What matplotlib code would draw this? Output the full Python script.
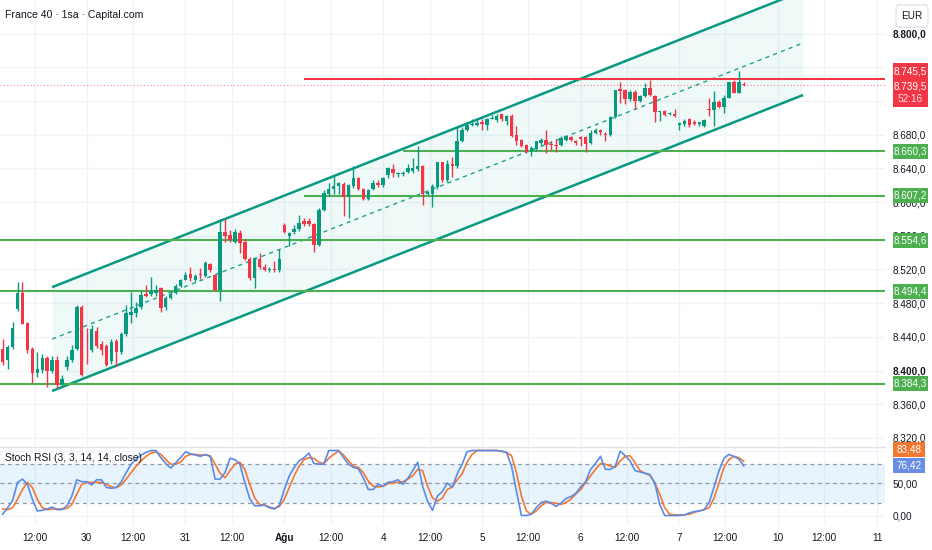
import matplotlib
matplotlib.use('Agg')
import matplotlib.pyplot as plt
import numpy as np
from matplotlib.patches import Rectangle, FancyBboxPatch
from matplotlib.transforms import IdentityTransform

plt.rcParams['font.family'] = ['Liberation Sans', 'DejaVu Sans']

# ---------------- data ----------------
opens = [8426, 8412, 8428, 8473, 8492, 8456, 8426, 8397, 8401, 8415,
         8399, 8413, 8383, 8404, 8412, 8426, 8475, 8425, 8424, 8447,
         8432, 8429, 8411, 8435, 8422, 8443, 8466, 8468, 8475, 8491,
         8491, 8492, 8498, 8475, 8486, 8492, 8500, 8508, 8515, 8507,
         8515, 8512, 8526, 8513, 8496, 8565, 8561, 8553, 8563, 8553,
         8533, 8510, 8533, 8523, 8519, 8521, 8519, 8573, 8560, 8564,
         8568, 8578, 8578, 8574, 8549, 8591, 8610, 8615, 8619, 8621,
         8606, 8619, 8628, 8616, 8604, 8616, 8623, 8620, 8632, 8639,
         8633, 8633, 8636, 8637, 8639, 8643, 8610, 8610, 8618, 8647,
         8626, 8645, 8643, 8672, 8685, 8691, 8692, 8695, 8691, 8699,
         8697, 8704, 8696, 8702, 8680, 8674, 8668, 8659, 8663, 8670,
         8674, 8669, 8668, 8668, 8674, 8677, 8673, 8677, 8677, 8670,
         8682, 8686, 8681, 8680, 8701, 8734, 8733, 8722, 8731, 8720,
         8726, 8735, 8726, 8707, 8708, 8704, 8705, 8691, 8693, 8698,
         8695, 8693, 8690, 8710, 8709, 8719, 8713, 8724, 8742, 8730,
         8740]
highs = [8437, 8430, 8458, 8505, 8505, 8458, 8428, 8422, 8420, 8417,
         8417, 8417, 8395, 8417, 8430, 8478, 8478, 8451, 8454, 8452,
         8435, 8431, 8437, 8438, 8446, 8478, 8493, 8481, 8494, 8501,
         8511, 8501, 8499, 8488, 8494, 8503, 8509, 8517, 8523, 8515,
         8522, 8530, 8528, 8514, 8580, 8580, 8567, 8568, 8567, 8556,
         8535, 8535, 8539, 8526, 8523, 8530, 8544, 8575, 8565, 8573,
         8585, 8581, 8581, 8575, 8593, 8614, 8623, 8632, 8624, 8624,
         8622, 8643, 8630, 8617, 8616, 8626, 8626, 8630, 8642, 8645,
         8636, 8637, 8645, 8652, 8667, 8644, 8613, 8621, 8648, 8648,
         8650, 8653, 8690, 8689, 8695, 8698, 8697, 8698, 8700, 8703,
         8704, 8705, 8703, 8704, 8690, 8675, 8669, 8666, 8673, 8676,
         8685, 8673, 8675, 8678, 8680, 8678, 8674, 8678, 8678, 8686,
         8688, 8687, 8683, 8702, 8733, 8743, 8734, 8733, 8733, 8727,
         8741, 8745, 8727, 8708, 8709, 8707, 8710, 8695, 8699, 8700,
         8697, 8695, 8698, 8723, 8732, 8721, 8727, 8743, 8745, 8756,
         8742]
lows = [8407, 8402, 8426, 8471, 8455, 8421, 8385, 8392, 8397, 8381,
        8397, 8379, 8381, 8401, 8410, 8424, 8394, 8408, 8422, 8427,
        8418, 8405, 8408, 8405, 8420, 8441, 8457, 8464, 8473, 8487,
        8489, 8488, 8470, 8472, 8485, 8491, 8499, 8507, 8506, 8505,
        8509, 8511, 8517, 8495, 8482, 8553, 8553, 8551, 8540, 8531,
        8508, 8498, 8521, 8518, 8517, 8517, 8517, 8563, 8548, 8562,
        8566, 8571, 8572, 8541, 8548, 8589, 8607, 8610, 8610, 8583,
        8581, 8617, 8614, 8602, 8602, 8614, 8618, 8618, 8629, 8630,
        8630, 8631, 8634, 8635, 8637, 8597, 8608, 8594, 8616, 8624,
        8624, 8630, 8641, 8671, 8684, 8690, 8690, 8686, 8685, 8698,
        8695, 8696, 8692, 8677, 8668, 8665, 8658, 8655, 8661, 8668,
        8658, 8662, 8660, 8666, 8673, 8673, 8668, 8667, 8660, 8669,
        8681, 8680, 8672, 8678, 8700, 8718, 8716, 8720, 8711, 8719,
        8725, 8726, 8695, 8696, 8702, 8703, 8701, 8685, 8690, 8689,
        8692, 8690, 8689, 8702, 8690, 8712, 8706, 8723, 8729, 8729,
        8738]
closes = [8410, 8428, 8450, 8492, 8455, 8425, 8397, 8402, 8415, 8399,
          8412, 8383, 8390, 8412, 8425, 8475, 8395, 8424, 8449, 8429,
          8425, 8407, 8434, 8422, 8443, 8468, 8470, 8474, 8490, 8489,
          8495, 8496, 8474, 8486, 8491, 8500, 8507, 8514, 8510, 8512,
          8513, 8528, 8519, 8496, 8565, 8560, 8555, 8564, 8552, 8533,
          8510, 8534, 8523, 8519, 8521, 8519, 8533, 8565, 8563, 8568,
          8575, 8574, 8574, 8549, 8591, 8611, 8616, 8619, 8623, 8606,
          8620, 8628, 8616, 8604, 8614, 8623, 8620, 8628, 8640, 8634,
          8634, 8635, 8640, 8641, 8643, 8610, 8612, 8619, 8647, 8626,
          8645, 8643, 8673, 8685, 8691, 8693, 8694, 8693, 8699, 8700,
          8702, 8698, 8702, 8678, 8672, 8667, 8659, 8664, 8672, 8674,
          8668, 8668, 8667, 8676, 8678, 8674, 8670, 8675, 8669, 8682,
          8686, 8683, 8679, 8701, 8733, 8732, 8722, 8731, 8720, 8726,
          8735, 8727, 8707, 8708, 8703, 8706, 8702, 8694, 8696, 8691,
          8693, 8695, 8697, 8709, 8719, 8713, 8724, 8742, 8730, 8742,
          8739.5]

stoch_k = [2, 12, 23, 51, 56, 48, 25, 7, 8, 10,
           13, 9, 9, 15, 30, 55, 52, 52, 47, 55,
           55, 43, 42, 43, 52, 66, 79, 86, 93, 97,
           100, 100, 89, 80, 73, 81, 89, 98, 95, 93,
           91, 94, 91, 56, 56, 66, 88, 86, 79, 51,
           26, 15, 15, 16, 12, 10, 16, 40, 61, 74,
           84, 89, 96, 80, 79, 79, 100, 100, 100, 89,
           79, 74, 72, 58, 40, 40, 48, 45, 51, 52,
           55, 48, 57, 69, 82, 45, 22, 8, 30, 37,
           50, 43, 64, 79, 98, 100, 100, 100, 100, 100,
           100, 99, 97, 76, 37, 0, 0, 2, 12, 20,
           22, 19, 14, 19, 26, 29, 34, 44, 52, 71,
           80, 91, 71, 71, 76, 99, 92, 84, 69, 67,
           65, 63, 50, 17, 0, 0, 0, 0, 1, 4,
           6, 7, 9, 20, 44, 69, 88, 94, 91, 87,
           76.42]
stoch_d = [10, 9, 12, 25, 40, 51, 43, 25, 12, 9,
           10, 10, 10, 11, 17, 33, 48, 51, 51, 51,
           51, 48, 44, 43, 47, 56, 66, 76, 84, 91,
           96, 98, 94, 86, 79, 79, 82, 91, 94, 94,
           93, 93, 92, 79, 65, 58, 69, 79, 82, 71,
           48, 27, 17, 16, 13, 11, 14, 25, 43, 61,
           76, 86, 89, 88, 82, 80, 88, 94, 99, 93,
           84, 76, 74, 66, 53, 45, 44, 45, 49, 50,
           51, 52, 56, 61, 71, 69, 45, 27, 22, 27,
           40, 44, 55, 64, 82, 94, 100, 100, 100, 100,
           100, 99, 97, 92, 66, 30, 7, 2, 7, 15,
           20, 20, 19, 17, 20, 25, 33, 40, 51, 61,
           71, 80, 79, 76, 74, 84, 91, 92, 81, 69,
           65, 62, 50, 33, 12, 2, 1, 1, 1, 2,
           5, 7, 9, 12, 27, 50, 74, 86, 91, 89,
           83.48]

# x-axis ticks (bar positions) and labels
tick_pos = [6.5, 17, 26.3, 37, 46.4, 57, 66.5, 77, 86.4, 97, 106.3, 117,
            126.3, 137, 146.2, 157, 166.3, 177]
tick_lbl = ['12:00', '30', '12:00', '31', '12:00', 'Ağu', '12:00', '4', '12:00',
            '5', '12:00', '6', '12:00', '7', '12:00', '10', '12:00', '11']

# horizontal levels: price, first bar
level_prices = [8660.3, 8607.2, 8554.6, 8494.4, 8384.3]
level_start = [81, 61, -1, -1, -1]
resist_price = 8745.5
resist_start = 61
last_price = 8739.5
countdown = '52:16'

# regression channel anchors (bar, price)
ch_bars = [10, 162]
ch_upper = [8499.0, 8850.4]
ch_mid = [8437.4, 8788.7]
ch_lower = [8375.8, 8727.0]

price_ticks = list(range(8320, 8801, 40))
hidden_price_ticks = [8720, 8760]      # covered by the price label in the reference
rsi_ticks = [0, 50]

# ---------------- style ----------------
GREEN = '#089981'
RED = '#f23645'
LVL = '#4caf50'
TEAL = '#089981'
BLUE = '#5b8be6'
ORANGE = '#f7762f'
GRID = '#f0f3fa'
TXT = '#131722'
FS = 7.2

W, H = 932, 550
fig = plt.figure(figsize=(W / 100, H / 100), dpi=100)
fig.patch.set_facecolor('white')


def fy(py):
    return 1 - py / H


ax = fig.add_axes([0, fy(446), 885 / W, 446 / H])
rx = fig.add_axes([0, fy(525), 885 / W, (525 - 447) / H])
XL = (-0.55, 178.6)
for a in (ax, rx):
    a.set_xlim(*XL)
    for s in a.spines.values():
        s.set_visible(False)
    a.set_facecolor('none')
    for t in tick_pos:
        a.axvline(t, color=GRID, lw=1, zorder=0)

ax.set_ylim(8310.5, 8839.8)
rx.set_ylim(-14.6, 105.4)

# horizontal grid
for p in price_ticks:
    ax.axhline(p, color=GRID, lw=1, zorder=0)
for v in (0, 50, 100):
    rx.axhline(v, color=GRID, lw=1, zorder=0)

# channel
ax.fill_between(ch_bars, ch_lower, ch_upper, color='#22ab94', alpha=0.07, lw=0, zorder=1)
ax.plot(ch_bars, ch_upper, color=TEAL, lw=1.8, zorder=2, solid_capstyle='butt')
ax.plot(ch_bars, ch_lower, color=TEAL, lw=1.8, zorder=2, solid_capstyle='butt')
ax.plot(ch_bars, ch_mid, color=TEAL, lw=1, ls=(0, (3, 3)), zorder=2, alpha=0.9)

# levels
for p, s in zip(level_prices, level_start):
    ax.hlines(p, s, XL[1], color=LVL, lw=1.5, zorder=2)
ax.hlines(resist_price, resist_start, XL[1], color=RED, lw=1.5, zorder=2)
ax.axhline(last_price, color=RED, lw=0.8, ls=(0, (1, 2)), alpha=0.6, zorder=2)

# candles
o = np.array(opens, float)
h = np.array(highs, float)
l = np.array(lows, float)
c = np.array(closes, float)
k = np.arange(len(c))
cols = np.where(c >= o, GREEN, RED)
ax.vlines(k, l, h, colors=cols, lw=1, zorder=3)
ax.bar(k, np.maximum(np.abs(c - o), 0.9), bottom=np.minimum(o, c), width=0.7,
       color=cols, lw=0, zorder=4)


def fmt(v, d=1):
    s = f"{v:,.{d}f}"
    return s.replace(',', 'X').replace('.', ',').replace('X', '.')


ax.yaxis.tick_right()
ax.set_yticks(price_ticks)
ax.set_yticklabels(['' if t in hidden_price_ticks else fmt(t, 1) for t in price_ticks])
rx.yaxis.tick_right()
rx.set_yticks(rsi_ticks)
rx.set_yticklabels([fmt(t, 2) for t in rsi_ticks])
for a in (ax, rx):
    a.tick_params(axis='y', length=0, pad=5.5, labelsize=FS, labelcolor=TXT)
for lbl in ax.get_yticklabels():
    if lbl.get_text() in ('8.800,0', '8.400,0'):
        lbl.set_fontweight('bold')

ax.set_xticks([])
rx.set_xticks(tick_pos)
rx.set_xticklabels(tick_lbl)
rx.tick_params(axis='x', length=0, pad=6, labelsize=FS, labelcolor=TXT)
for lbl in rx.get_xticklabels():
    if lbl.get_text() == 'Ağu':
        lbl.set_fontweight('bold')

# stoch RSI
rx.axhspan(20, 80, color='#2196f3', alpha=0.1, lw=0, zorder=1)
for v in (80, 50, 20):
    rx.axhline(v, color='#9598a1', lw=0.9, ls=(0, (3, 3)), zorder=2)
rx.plot(k, stoch_k, color=BLUE, lw=1.2, zorder=4)
rx.plot(k, stoch_d, color=ORANGE, lw=1.2, zorder=3)

# separators
fig.add_artist(plt.Line2D([0, 885 / W], [fy(446.5), fy(446.5)], color='#e0e3eb', lw=1))

# texts
fig.text(5 / W, fy(15), 'France 40 · 1sa · Capital.com', fontsize=7.6, color=TXT,
         va='center', ha='left')
fig.text(5 / W, fy(458), 'Stoch RSI (3, 3, 14, 14, close)', fontsize=7.4, color=TXT,
         va='center', ha='left')

fig.canvas.draw()
ID = IdentityTransform()


def ydisp(a, v):
    return a.transData.transform((0, v))[1]


def box(yc, color, text, hgt=15, x0=893, w=35):
    fig.add_artist(Rectangle((x0, yc - hgt / 2), w, hgt, transform=ID, facecolor=color,
                             edgecolor='none', zorder=10))
    fig.text(x0 + w / 2, yc, text, transform=ID, ha='center', va='center',
             fontsize=FS, color='white', zorder=11)


for p in level_prices:
    box(ydisp(ax, p), LVL, fmt(p))

yr = ydisp(ax, resist_price)
fig.add_artist(Rectangle((893, yr - 28), 35, 44, transform=ID, facecolor=RED,
                         edgecolor='none', zorder=10))
fig.text(910.5, yr + 8, fmt(resist_price), transform=ID, ha='center', va='center',
         fontsize=FS, color='white', zorder=11)
fig.text(910.5, yr - 7, fmt(last_price), transform=ID, ha='center',
         va='center', fontsize=FS, color='white', zorder=11)
fig.text(910.5, yr - 20, countdown, transform=ID, ha='center',
         va='center', fontsize=FS, color='#ffe0e3', zorder=11)

yb = ydisp(rx, stoch_k[-1])
box(yb, '#6a8ee6', fmt(stoch_k[-1], 2), x0=893, w=32)
box(yb + 16, ORANGE, fmt(stoch_d[-1], 2), x0=893, w=32)

# EUR box
fig.add_artist(FancyBboxPatch((896, H - 27), 32, 22, boxstyle='round,pad=0,rounding_size=3',
                              transform=ID, facecolor='white', edgecolor='#e0e3eb', lw=1,
                              zorder=10))
fig.text(912, H - 16, 'EUR', transform=ID, ha='center', va='center', fontsize=FS,
         color=TXT, zorder=11)

fig.savefig('out.png', dpi=100)
